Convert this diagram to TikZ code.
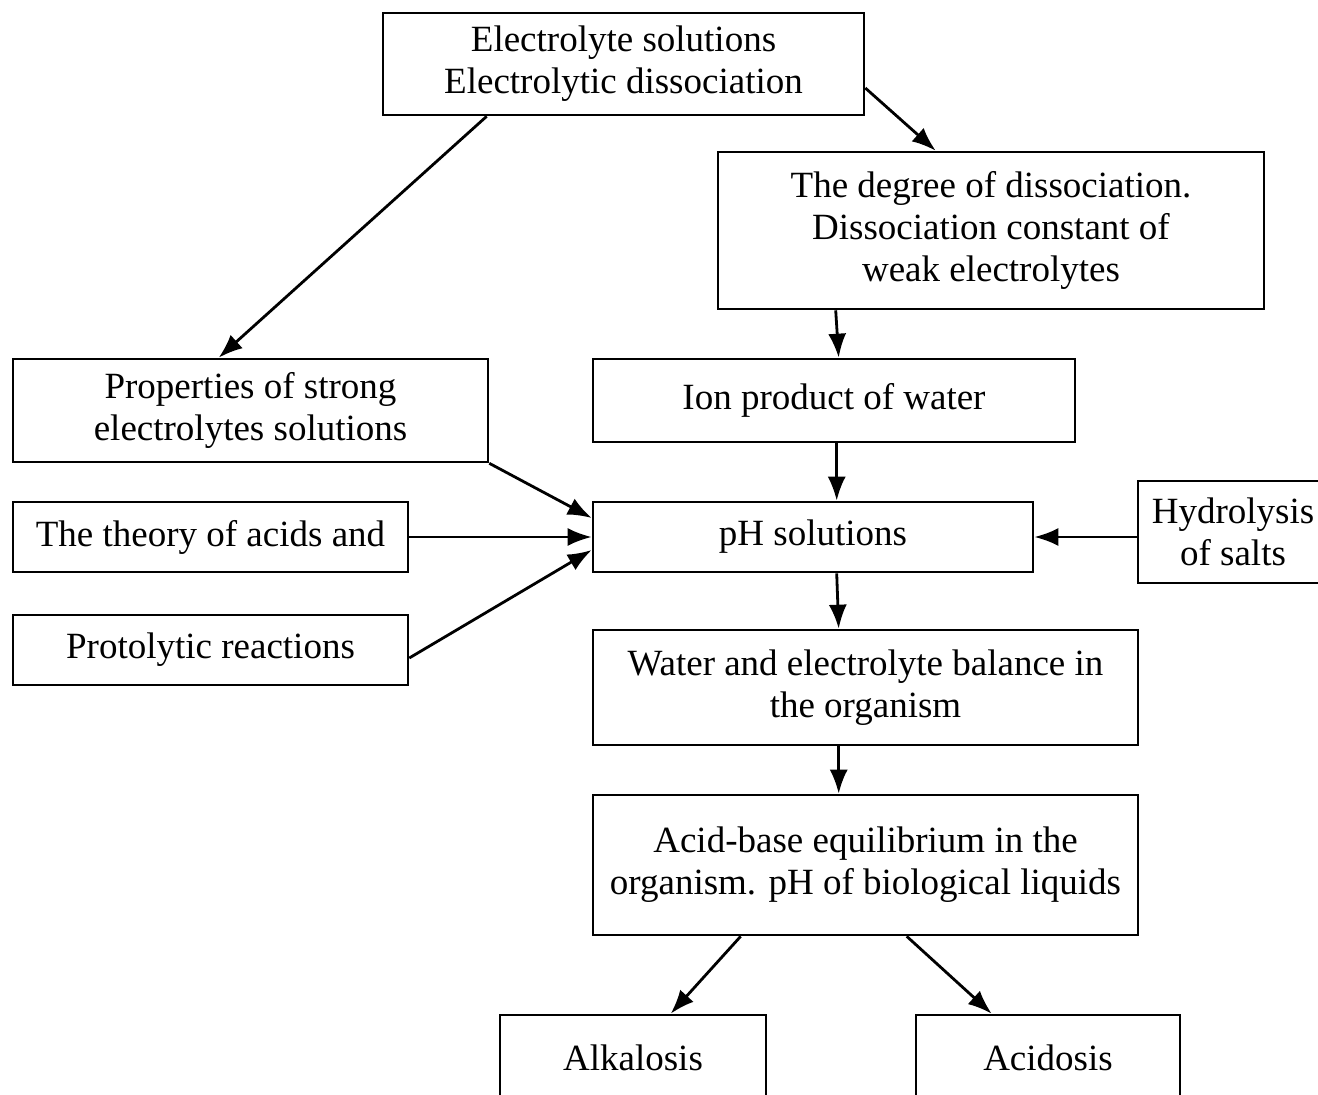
\documentclass[tikz,border=0pt]{standalone}
\usepackage{fontspec}
\setmainfont{Liberation Serif}
\usetikzlibrary{arrows.meta}

\begin{document}
\begin{tikzpicture}[x=1pt, y=-1pt,
    topic/.style={draw, line width=2.6pt, inner sep=0pt, align=center,
      font=\fontsize{37}{42}\selectfont},
    link/.style={line width=2.8pt, -{Latex[length=24pt,width=18pt]}}]
  \useasboundingbox (0,0) rectangle (1318,1095);

  % topic boxes
  \node[topic, minimum width=481pt, minimum height=102pt] (elyte) at (623.5,64)
    {Electrolyte solutions\\Electrolytic dissociation};
  \node[topic, minimum width=546pt, minimum height=157pt] (degree) at (991,230.5)
    {The degree of dissociation.\\Dissociation constant of\\weak electrolytes};
  \node[topic, minimum width=475pt, minimum height=103pt] (strong) at (250.5,410.5)
    {Properties of strong\\electrolytes solutions};
  \node[topic, minimum width=482pt, minimum height=83pt] (ionprod) at (834,400.5)
    {Ion product of water};
  \node[topic, minimum width=395pt, minimum height=70pt] (theory) at (210.5,537)
    {The theory of acids and};
  \node[topic, minimum width=440pt, minimum height=70pt] (ph) at (813,537)
    {pH solutions};
  \node[topic, minimum width=190pt, minimum height=102pt] (hydro) at (1233,532)
    {Hydrolysis\\of salts};
  \node[topic, minimum width=395pt, minimum height=70pt] (proto) at (210.5,650)
    {Protolytic reactions};
  \node[topic, minimum width=545pt, minimum height=115pt] (balance) at (865.5,687.5)
    {Water and electrolyte balance in\\the organism};
  \node[topic, minimum width=545pt, minimum height=140pt] (acidbase) at (865.5,865)
    {Acid-base equilibrium in the\\organism. pH of biological liquids};
  \node[topic, minimum width=266pt, minimum height=86pt] (alkal) at (633,1058)
    {Alkalosis};
  \node[topic, minimum width=264pt, minimum height=86pt] (acidos) at (1048,1058)
    {Acidosis};

  % connectors
  \draw[link] ([xshift=105pt]elyte.south west) -- ([xshift=207pt]strong.north west);
  \draw[link] ([yshift=-24pt]elyte.east) -- ([xshift=219pt]degree.north west);
  \draw[link] ([xshift=119pt]degree.south west) -- ([xshift=247pt]ionprod.north west);
  \draw[link] ([xshift=245pt]ionprod.south west) -- ([xshift=245pt]ph.north west);
  \draw[link] (strong.south east) -- ([yshift=19pt]ph.west);
  \draw[link] (theory.east) -- (ph.west);
  \draw[link] ([yshift=-8pt]proto.east) -- ([yshift=-13pt]ph.west);
  \draw[link] ([yshift=-5pt]hydro.west) -- (ph.east);
  \draw[link] ([xshift=245pt]ph.south west) -- ([xshift=247pt]balance.north west);
  \draw[link] ([xshift=247pt]balance.south west) -- ([xshift=247pt]acidbase.north west);
  \draw[link] ([xshift=149pt]acidbase.south west) -- ([xshift=172pt]alkal.north west);
  \draw[link] ([xshift=315pt]acidbase.south west) -- ([xshift=77pt]acidos.north west);
\end{tikzpicture}
\end{document}
